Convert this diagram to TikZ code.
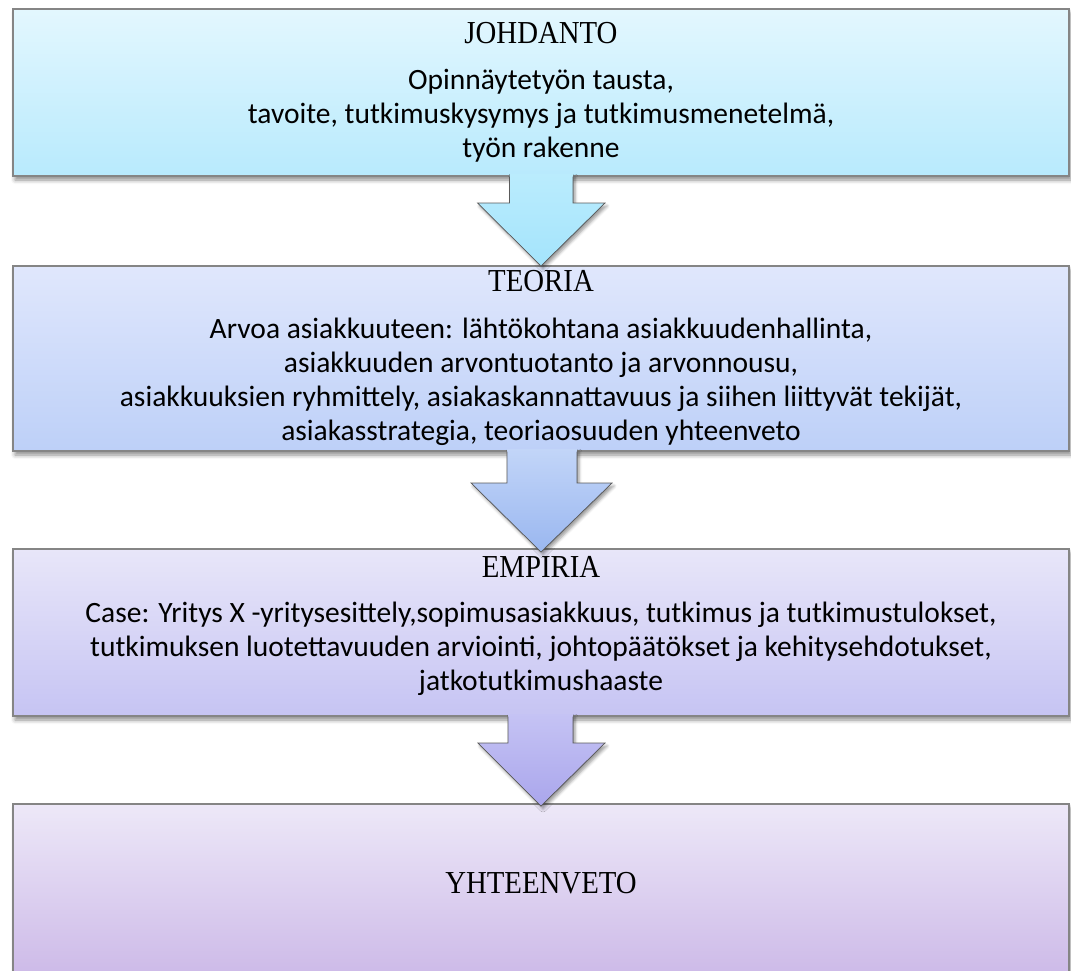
\documentclass[tikz,border=0pt]{standalone}
\usepackage{fontspec}
\setmainfont{Liberation Serif}
\newfontfamily\titlefont[FakeStretch=0.9]{Liberation Serif}
\newfontfamily\bodyfont{Carlito}
\usetikzlibrary{shadows.blur,calc}
\definecolor{cAt}{HTML}{E3F7FE}\definecolor{cAb}{HTML}{B8EAFD}
\definecolor{cBt}{HTML}{E0E7FC}\definecolor{cBb}{HTML}{BDD0F8}
\definecolor{cCt}{HTML}{E8E6F9}\definecolor{cCb}{HTML}{C6C4F3}
\definecolor{cDt}{HTML}{EDE8F8}\definecolor{cDb}{HTML}{CDBAE8}
\definecolor{aAt}{HTML}{BAECFD}\definecolor{aAb}{HTML}{A4E4FC}
\definecolor{aBt}{HTML}{C2D5F8}\definecolor{aBb}{HTML}{9AB7F0}
\definecolor{aCt}{HTML}{C5C3F4}\definecolor{aCb}{HTML}{AAA6EC}
\definecolor{boxline}{HTML}{858585}
\definecolor{arrline}{HTML}{5A5A5A}
\begin{document}
\begin{tikzpicture}[x=1pt,y=-1pt,
  box/.style={rectangle,draw=boxline,line width=1.1pt,inner sep=0pt,outer sep=0pt,
    minimum width=1056pt,
    blur shadow={shadow xshift=2pt,shadow yshift=-4pt,shadow blur radius=4pt,shadow opacity=45}},
  ttl/.style={anchor=base,inner sep=0pt,font=\titlefont\fontsize{32}{37}\selectfont},
  bodytxt/.style={anchor=base,inner sep=0pt,font=\bodyfont\fontsize{29.5}{34}\selectfont},
  flowfill/.style={blur shadow={shadow xshift=2pt,shadow yshift=-3pt,shadow blur radius=3pt,shadow opacity=40}},
  flowline/.style={draw=arrline,line width=0.7pt,line join=miter}
]
\useasboundingbox (0,0) rectangle (1071,970);
\clip (0,0) rectangle (1071,970);

% boxes
\node[box,minimum height=167pt,top color=cAt,bottom color=cAb] (b1) at (541,92.5) {};
\node[box,minimum height=185pt,top color=cBt,bottom color=cBb] (b2) at (541,358.5) {};
\node[box,minimum height=167pt,top color=cCt,bottom color=cCb] (b3) at (541,632.5) {};
\node[box,minimum height=171pt,top color=cDt,bottom color=cDb] (b4) at (541,889.5) {};

% arrow 1
\fill[flowfill,top color=aAt,bottom color=aAb]
  ($(b1.south)+(-31.5,-2)$) -- ($(b1.south)+(-31.5,27)$) -- ($(b1.south)+(-63.5,27)$)
  -- (b2.north) -- ($(b1.south)+(64,27)$) -- ($(b1.south)+(32,27)$) -- ($(b1.south)+(32,-2)$) -- cycle;
\draw[flowline]
  ($(b1.south)+(-31.5,0.5)$) -- ($(b1.south)+(-31.5,27)$) -- ($(b1.south)+(-63.5,27)$)
  -- (b2.north) -- ($(b1.south)+(64,27)$) -- ($(b1.south)+(32,27)$) -- ($(b1.south)+(32,0.5)$);

% arrow 2
\fill[flowfill,top color=aBt,bottom color=aBb]
  ($(b2.south)+(-34,-2)$) -- ($(b2.south)+(-34,32)$) -- ($(b2.south)+(-70,32)$)
  -- ($(b3.north)+(0,3)$) -- ($(b2.south)+(71,32)$) -- ($(b2.south)+(36,32)$) -- ($(b2.south)+(36,-2)$) -- cycle;
\draw[flowline]
  ($(b2.south)+(-34,0.5)$) -- ($(b2.south)+(-34,32)$) -- ($(b2.south)+(-70,32)$)
  -- ($(b3.north)+(0,3)$) -- ($(b2.south)+(71,32)$) -- ($(b2.south)+(36,32)$) -- ($(b2.south)+(36,0.5)$);

% arrow 3
\fill[flowfill,top color=aCt,bottom color=aCb]
  ($(b3.south)+(-33,-2)$) -- ($(b3.south)+(-33,27)$) -- ($(b3.south)+(-63,27)$)
  -- ($(b4.north)+(0,2)$) -- ($(b3.south)+(64,27)$) -- ($(b3.south)+(32,27)$) -- ($(b3.south)+(32,-2)$) -- cycle;
\draw[flowline]
  ($(b3.south)+(-33,0.5)$) -- ($(b3.south)+(-33,27)$) -- ($(b3.south)+(-63,27)$)
  -- ($(b4.north)+(0,2)$) -- ($(b3.south)+(64,27)$) -- ($(b3.south)+(32,27)$) -- ($(b3.south)+(32,0.5)$);

% texts box 1
\node[ttl] (t1) at (541,43.5) {JOHDANTO};
\node[bodytxt] (l11) at (541,89.5) {Opinnäytetyön tausta,};
\node[bodytxt] (l12) at (541,123.5) {tavoite, tutkimuskysymys ja tutkimusmenetelmä,};
\node[bodytxt] (l13) at (541,157) {työn rakenne};

% texts box 2
\node[ttl] (t2) at (541,291.5) {TEORIA};
\node[bodytxt] (l21) at (541,338) {Arvoa asiakkuuteen: lähtökohtana asiakkuudenhallinta,};
\node[bodytxt] (l22) at (541,372) {asiakkuuden arvontuotanto ja arvonnousu,};
\node[bodytxt] (l23) at (541,406) {asiakkuuksien ryhmittely, asiakaskannattavuus ja siihen liittyvät tekijät,};
\node[bodytxt] (l24) at (541,440) {asiakasstrategia, teoriaosuuden yhteenveto};

% texts box 3
\node[ttl] (t3) at (541,577) {EMPIRIA};
\node[bodytxt] (l31) at (541,622) {Case: Yritys X -yritysesittely,sopimusasiakkuus, tutkimus ja tutkimustulokset,};
\node[bodytxt] (l32) at (541,656) {tutkimuksen luotettavuuden arviointi, johtopäätökset ja kehitysehdotukset,};
\node[bodytxt] (l33) at (541,690) {jatkotutkimushaaste};

% text box 4
\node[ttl] (t4) at (541,893) {YHTEENVETO};
\end{tikzpicture}
\end{document}
